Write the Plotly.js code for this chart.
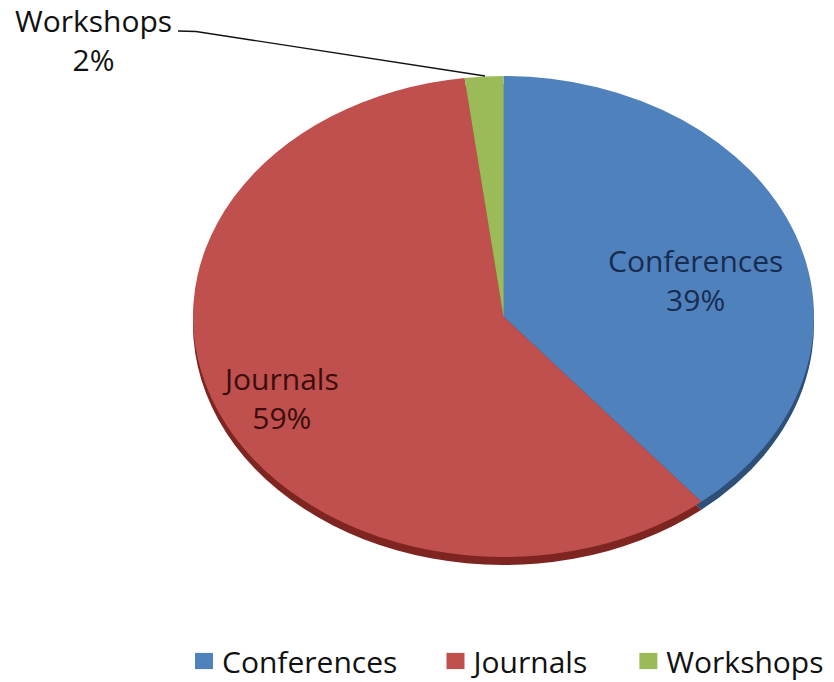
<!DOCTYPE html>
<html>
<head>
<meta charset="utf-8">
<script src="https://cdn.plot.ly/plotly-3.0.1.min.js"></script>
<style>
  html, body { margin: 0; padding: 0; background: #fff; }
  #chart { width: 834px; height: 682px; }
</style>
</head>
<body>
<div id="chart"></div>
<script>
// Publication venues share
const categories = ['Conferences', 'Journals', 'Workshops'];
const shares = [39, 59, 2];
const sliceColors = ['#4F81BD', '#C0504D', '#9BBB59'];
const rimColors = ['#2E4F78', '#7E2522', '#5F7A30'];
const labelColors = ['#182C50', '#3A0E0E', '#111111'];

// Geometry of the tilted pie (pixels)
const W = 834, H = 682;
const cx = 503.5, cy = 316.5, rx = 310.5, ry = 240.5;
const squash = ry / rx;
const rimDepth = 8 / squash;

const domX = [(cx - rx) / W, (cx + rx) / W];
const domY = [1 - (cy + rx) / H, 1 - (cy - rx) / H];
const domYRim = [domY[0] - rimDepth / H, domY[1] - rimDepth / H];

// legend entries get a little trailing room between them
const legendLabels = categories.map((c, i) =>
  i < categories.length - 1 ? c + '\u00a0\u00a0\u00a0\u00a0' : c);

const common = {
  type: 'pie',
  values: shares,
  labels: legendLabels,
  sort: false,
  direction: 'clockwise',
  rotation: 0,
  textinfo: 'none',
  hoverinfo: 'skip',
  domain: { x: domX, y: domY }
};

const rim = Object.assign({}, common, {
  domain: { x: domX, y: domYRim },
  marker: { colors: rimColors, line: { width: 0 } },
  showlegend: false
});

const face = Object.assign({}, common, {
  marker: { colors: sliceColors, line: { width: 0 } },
  showlegend: true
});

// label centres (pixels), two lines each: name and percent
const labelPos = [[695.5, 279.5], [280.5, 398], [93.5, 40]];

const annotations = categories.map((c, i) => ({
  text: c + '<br>' + shares[i] + '%',
  x: labelPos[i][0] / W, y: 1 - labelPos[i][1] / H,
  xref: 'paper', yref: 'paper',
  xanchor: 'center', yanchor: 'middle', align: 'center',
  showarrow: false, borderpad: 0,
  font: { family: 'Open Sans, sans-serif', size: 30, color: labelColors[i] }
}));

// leader line for the small slice label
const lp = [[178, 31], [196, 31.5], [485, 76]];
const leaderPath = 'M' + lp.map(q => (q[0] / W) + ',' + (1 - q[1] / H)).join(' L');

const layout = {
  width: W,
  height: H,
  margin: { l: 0, r: 0, t: 0, b: 0, pad: 0, autoexpand: false },
  paper_bgcolor: '#ffffff',
  plot_bgcolor: '#ffffff',
  showlegend: true,
  legend: {
    orientation: 'h',
    x: 182 / W, xanchor: 'left',
    y: 1 - 661 / H, yanchor: 'middle',
    font: { family: 'Open Sans, sans-serif', size: 30, color: '#111111' },
    bgcolor: 'rgba(0,0,0,0)',
    borderwidth: 0,
    traceorder: 'normal'
  },
  annotations: annotations,
  shapes: [{
    type: 'path', xref: 'paper', yref: 'paper', path: leaderPath,
    line: { color: '#111111', width: 1.3 }
  }]
};

const gd = document.getElementById('chart');

function tiltPie() {
  const layer = gd.querySelector('.pielayer');
  if (layer) {
    layer.setAttribute('transform',
      'translate(0,' + (cy * (1 - squash)) + ') scale(1,' + squash + ')');
  }
  gd.querySelectorAll('.legend path.legendpie').forEach(p => {
    p.setAttribute('transform', 'translate(22,0) scale(1.5,1.35)');
  });
}

Plotly.newPlot(gd, [rim, face], layout, { displayModeBar: false, staticPlot: true })
  .then(() => {
    tiltPie();
    gd.on('plotly_afterplot', tiltPie);
  });
</script>
</body>
</html>
